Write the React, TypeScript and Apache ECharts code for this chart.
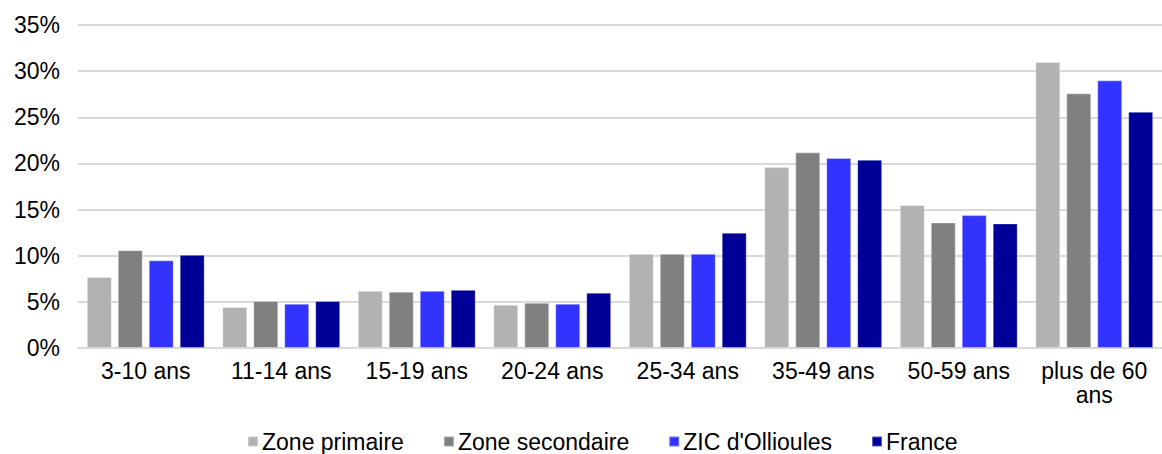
import React, { useEffect, useRef } from "react";
import * as echarts from "echarts";

const categories = ["3-10 ans", "11-14 ans", "15-19 ans", "20-24 ans", "25-34 ans", "35-49 ans", "50-59 ans", "plus de 60\nans"];
const zonePrimaire = [7.7, 4.45, 6.2, 4.7, 10.2, 19.6, 15.5, 31.0];
const zoneSecondaire = [10.6, 5.1, 6.1, 4.9, 10.2, 21.2, 13.6, 27.6];
const zicOllioules = [9.5, 4.8, 6.2, 4.8, 10.2, 20.6, 14.4, 29.0];
const france = [10.1, 5.1, 6.3, 6.0, 12.5, 20.4, 13.5, 25.6];
const seriesNames = ["Zone primaire", "Zone secondaire", "ZIC d'Ollioules", "France"];
const colors = ["#B2B2B2", "#808080", "#3333FF", "#000099"];

const FONT = "'Liberation Sans', Arial, Helvetica, sans-serif";

export default function App() {
  const ref = useRef<HTMLDivElement>(null);
  useEffect(() => {
    if (!ref.current) return;
    const chart = echarts.init(ref.current, undefined, { renderer: "svg" });
    const data = [zonePrimaire, zoneSecondaire, zicOllioules, france];
    chart.setOption({
      animation: false,
      textStyle: { fontFamily: FONT },
      grid: { left: 78, right: 0, top: 25, bottom: 106, containLabel: false },
      legend: {
        top: 430,
        left: 247,
        padding: 0,
        itemWidth: 10,
        itemHeight: 10,
        itemGap: 39,
        icon: "rect",
        textStyle: { fontFamily: FONT, fontSize: 23, lineHeight: 23, color: "#000", padding: [0, 0, 0, -1] },
        data: seriesNames,
      },
      xAxis: {
        type: "category",
        data: categories,
        axisLine: { show: true, lineStyle: { color: "#D9D9D9", width: 2 } },
        axisTick: { show: false },
        axisLabel: { interval: 0, fontFamily: FONT, fontSize: 23, color: "#000", margin: 11, lineHeight: 24 },
      },
      yAxis: {
        type: "value",
        min: 0,
        max: 35,
        interval: 5,
        axisLine: { show: false },
        axisTick: { show: false },
        splitLine: { lineStyle: { color: "#D9D9D9", width: 2 } },
        axisLabel: { fontFamily: FONT, fontSize: 23, color: "#000", margin: 18, formatter: "{value}%" },
      },
      series: seriesNames.map((name, i) => ({
        name,
        type: "bar",
        data: data[i],
        barGap: "24%",
        barCategoryGap: "13%",
        itemStyle: { color: colors[i], borderColor: "rgba(255,255,255,0.35)", borderWidth: 1 },
      })),
    });
    return () => chart.dispose();
  }, []);
  return <div ref={ref} style={{ position: "absolute", left: 0, top: 0, width: 1162, height: 454 }} />;
}
